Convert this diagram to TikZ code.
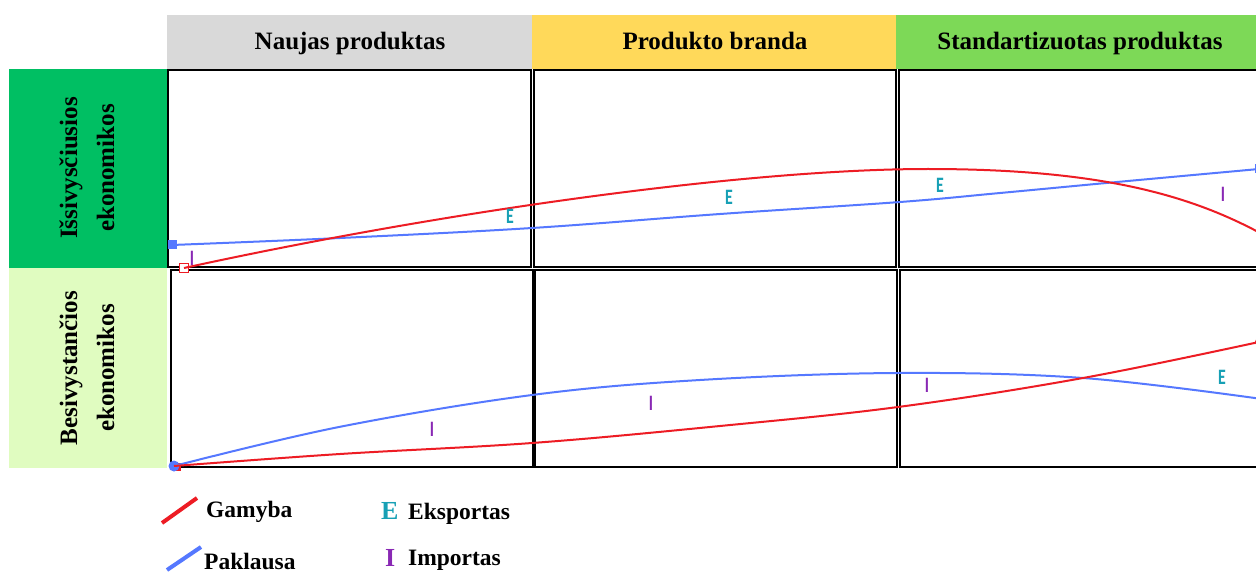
\documentclass[tikz,border=0pt]{standalone}
\usepackage{fontspec}
\setmainfont{Liberation Serif}
\newfontfamily\lblfont{Carlito}
\definecolor{hgray}{RGB}{217,217,217}
\definecolor{hyellow}{RGB}{255,217,90}
\definecolor{hgreen}{RGB}{125,217,87}
\definecolor{rdark}{RGB}{0,191,99}
\definecolor{rlight}{RGB}{224,252,192}
\definecolor{cred}{RGB}{237,28,36}
\definecolor{cblue}{RGB}{85,120,255}
\definecolor{cteal}{RGB}{23,160,181}
\definecolor{cpurple}{RGB}{137,40,180}
\tikzset{
  cellbox/.style={draw=black, line width=2.5pt, fill=white},
  headtxt/.style={anchor=base, font=\fontsize{25}{30}\selectfont\bfseries},
  rowtxt/.style={rotate=90, align=center, font=\fontsize{25}{37}\selectfont\bfseries},
  gam/.style={draw=cred, line width=2pt},
  pak/.style={draw=cblue, line width=2pt},
  elbl/.style={text=cteal, font=\lblfont\fontsize{22}{22}\selectfont\bfseries, xscale=0.72, transform shape, inner sep=0pt},
  ilbl/.style={text=cpurple, font=\lblfont\fontsize{22}{22}\selectfont\bfseries, xscale=0.72, transform shape, inner sep=0pt},
  legtxt/.style={anchor=base west, inner sep=0pt, font=\fontsize{23.5}{28}\selectfont\bfseries},
  legsym/.style={anchor=base west, inner sep=0pt, font=\fontsize{26}{30}\selectfont\bfseries}
}
\begin{document}
\begin{tikzpicture}[x=1pt,y=-1pt]
\useasboundingbox (0,0) rectangle (1256,572);
% headers
\fill[hgray] (167,15) rectangle (532,69);
\fill[hyellow] (532,15) rectangle (896,69);
\fill[hgreen] (896,15) rectangle (1264,69);
\node[headtxt] (h1) at (350,50) {Naujas produktas};
\node[headtxt] (h2) at (715,50) {Produkto branda};
\node[headtxt] (h3) at (1080,50) {Standartizuotas produktas};
% row labels
\fill[rdark] (9,69) rectangle (167,268);
\fill[rlight] (9,268) rectangle (167,468);
\node[rowtxt] (r1) at (87,168) {Išsivysčiusios\\ekonomikos};
\node[rowtxt] (r2) at (87,368) {Besivystančios\\ekonomikos};
% cells
\draw[cellbox] (168,70) rectangle (531,267);
\draw[cellbox] (534,70) rectangle (896,267);
\draw[cellbox] (899,70) rectangle (1264,267);
\draw[cellbox] (171,270) rectangle (533,467);
\draw[cellbox] (535,270) rectangle (897,467);
\draw[cellbox] (900,270) rectangle (1264,467);
% markers
\node[fill=cblue, minimum size=9pt, inner sep=0pt] (tb) at (172,245) {};
\node[draw=cred, line width=1.8pt, fill=white, minimum size=9pt, inner sep=0pt] (tr) at (184,268) {};
\node[fill=cred, minimum size=8pt, inner sep=0pt] (br) at (177,467) {};
\node[circle, fill=cblue, minimum size=11pt, inner sep=0pt] (bb) at (174,466) {};
\node[fill=cblue, minimum size=9pt, inner sep=0pt] (tbe) at (1259,169) {};
\node[circle, fill=cred, minimum size=8pt, inner sep=0pt] (bre) at (1259,342) {};
\coordinate (trpk) at (928,169);
\coordinate (tre) at (1262,234);
% curves top
\draw[pak] plot[smooth, tension=0.6] coordinates {(tb.center) (340,238) (532,228) (720,214) (900,202) (1000,193) (1117,182) (tbe.center)};
\draw[gam] (tr.center) .. controls (450,210) and (750,169) .. (trpk)
                       .. controls (1100,169) and (1190,195) .. (tre);
% curves bottom
\draw[pak] plot[smooth, tension=0.6] coordinates {(bb.center) (339,427) (532,395) (700,380) (898,373) (1083,378) (1262,399)};
\draw[gam] plot[smooth, tension=0.6] coordinates {(bb.center) (340,454) (532,443) (720,426) (898,407) (1083,378) (bre.center)};
% small labels
\node[ilbl] (i1) at (192,258) {I};
\node[elbl] (e1) at (510,216) {E};
\node[elbl] (e2) at (729,197) {E};
\node[elbl] (e3) at (940,185) {E};
\node[ilbl] (i2) at (1223,194) {I};
\node[ilbl] (i3) at (432,429) {I};
\node[ilbl] (i4) at (651,403) {I};
\node[ilbl] (i5) at (927,385) {I};
\node[elbl] (e4) at (1222,377) {E};
% legend
\coordinate (lg1a) at (162,523);
\coordinate (lg1b) at (197,498);
\coordinate (lg2a) at (167,570);
\coordinate (lg2b) at (201,547);
\draw[gam, line width=4pt] (lg1a) -- (lg1b);
\draw[pak, line width=4pt] (lg2a) -- (lg2b);
\node[legtxt] (lgt1) at (206,517) {Gamyba};
\node[legtxt] (lgt2) at (204,569) {Paklausa};
\node[legsym, text=cteal] (lgE) at (381,519) {E};
\node[legtxt] (lgt3) at (408,519) {Eksportas};
\node[legsym, text=cpurple] (lgI) at (385,566) {I};
\node[legtxt] (lgt4) at (408,565) {Importas};
\end{tikzpicture}
\end{document}
